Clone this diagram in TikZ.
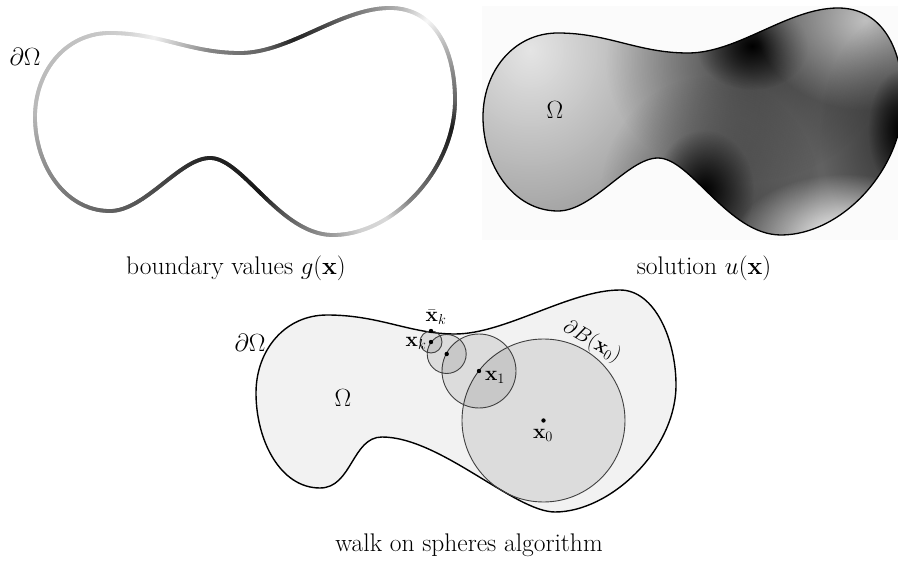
\documentclass[tikz,border=0pt]{standalone}
\usetikzlibrary{decorations.markings,fadings}
\def\grayvals{{0.72,0.73,0.74,0.755,0.78,0.82,0.94,0.73,0.52,0.45,0.38,0.14,0.25,0.42,0.55,0.72,0.97,0.74,0.54,0.4,0.11,0.2,0.38,0.52,0.85,0.82,0.61,0.48,0.32,0.09,0.12,0.13,0.19,0.27,0.33,0.37,0.42,0.48,0.55,0.63,0.72}}
\newcommand\shapeApath{(35,117) .. controls (35,72) and (65,33) .. (110,33) .. controls (160,33) and (190,53) .. (240,53) .. controls (290,53) and (340,8) .. (390,8) .. controls (435,8) and (455,50) .. (455,100) .. controls (455,170) and (393,235) .. (333,235) .. controls (280,235) and (243,158) .. (210,158) .. controls (180,158) and (145,211) .. (110,211) .. controls (65,211) and (35,165) .. cycle}
\newcommand\shapeCpath{(256,393) .. controls (256,350) and (285,315) .. (327,315) .. controls (380,315) and (410,334) .. (455,334) .. controls (505,334) and (570,290) .. (620,290) .. controls (655,290) and (676,340) .. (676,385) .. controls (676,450) and (610,512) .. (555,512) .. controls (515,512) and (440,437) .. (382,437) .. controls (352,437) and (352,488) .. (320,488) .. controls (280,488) and (256,440) .. cycle}
\tikzfading[name=spot, inner color=transparent!0, outer color=transparent!100]
\tikzset{
  gradstroke/.style={
    decoration={markings,
      mark=between positions 0 and 1 step 0.8pt with {
        \pgfmathsetmacro\tpos{\pgfkeysvalueof{/pgf/decoration/mark info/distance from start}/\pgfdecoratedpathlength*40}
        \pgfmathtruncatemacro\ipos{min(\tpos,39)}
        \pgfmathtruncatemacro\jpos{\ipos+1}
        \pgfmathsetmacro\ga{\grayvals[\ipos]}
        \pgfmathsetmacro\gb{\grayvals[\jpos]}
        \pgfmathsetmacro\pct{100*(1-(\ga+(\gb-\ga)*(\tpos-\ipos)))}
        \draw[line width=3.8pt, black!\pct] (-0.7pt,0) -- (0.7pt,0);
      }},
    decorate},
  circ/.style={fill=black, fill opacity=0.09, draw=black!75, line width=0.9pt},
  dot/.style={fill=black},
  lab/.style={inner sep=1pt},
  big/.style={font=\fontsize{26}{30}\selectfont},
  small/.style={font=\fontsize{21}{25}\selectfont},
  soft/.style={path fading=spot, fill opacity=0.5}
}
\begin{document}
\begin{tikzpicture}[x=1pt,y=-1pt, font=\fontsize{25.5}{30}\selectfont]
\useasboundingbox (0,0) rectangle (898,564);
% faint background of right panel
\fill[black!1.5] (482,6) rectangle (898,240);
% top-left: boundary values
\path[gradstroke] \shapeApath;
\node[lab, big] (dO1) at (25,57) {$\partial\Omega$};
% top-right: solution
\begin{scope}[shift={(448,0)}]
  \begin{scope}
    \clip \shapeApath;
    \fill[black!62] (-20,-20) rectangle (480,260);
    \fill[black!10, path fading=spot] (82,50) ellipse [x radius=300pt, y radius=340pt];
    \fill[black, soft] (298,62) ellipse [x radius=140pt, y radius=120pt];
    \fill[black, path fading=spot] (304,46) ellipse [x radius=56pt, y radius=44pt];
    \fill[black, soft] (262,196) ellipse [x radius=110pt, y radius=120pt];
    \fill[black, path fading=spot] (256,190) ellipse [x radius=50pt, y radius=60pt];
    \fill[black!25, path fading=spot] (417,20) ellipse [x radius=110pt, y radius=90pt];
    \fill[black, soft] (452,132) ellipse [x radius=80pt, y radius=120pt];
    \fill[black, path fading=spot] (452,130) ellipse [x radius=32pt, y radius=60pt];
    \fill[white, path fading=spot] (397,238) ellipse [x radius=110pt, y radius=64pt];
  \end{scope}
  \draw[line width=1.3pt] \shapeApath;
\end{scope}
\node[lab, big] (O2) at (555,110) {$\Omega$};
% captions
\node (capA) at (236,268) {boundary values $g(\mathbf{x})$};
\node (capB) at (704,268) {solution $u(\mathbf{x})$};
% bottom: walk on spheres
\fill[black!5, draw=black, line width=1.4pt] \shapeCpath;
\coordinate (x0) at (543.5,420.5);
\coordinate (x1) at (479,371);
\coordinate (x2) at (446.7,354);
\coordinate (xk) at (431,342);
\coordinate (xb) at (431,331);
\filldraw[circ] (x0) circle (81.5pt);
\filldraw[circ] (x1) circle (37pt);
\filldraw[circ] (x2) circle (19.5pt);
\filldraw[circ] (xk) circle (11pt);
\foreach \p in {x0,x1,x2,xk,xb} \fill[dot] (\p) circle (2.2pt);
\node[lab, big] (dO3) at (250,343) {$\partial\Omega$};
\node[lab, big] (O3) at (343,398) {$\Omega$};
\node[lab, small] (lxb) at (436,317) {$\bar{\mathbf{x}}_k$};
\node[lab, small] (lxk) at (416,343) {$\mathbf{x}_k$};
\node[lab, small] (lx1) at (495,377) {$\mathbf{x}_1$};
\node[lab, small] (lx0) at (543,435) {$\mathbf{x}_0$};
\node[lab, small, rotate=-30] (lB) at (592,342) {$\partial B(\mathbf{x}_0)$};
\node (capC) at (469,545) {walk on spheres algorithm};
\end{tikzpicture}
\end{document}
